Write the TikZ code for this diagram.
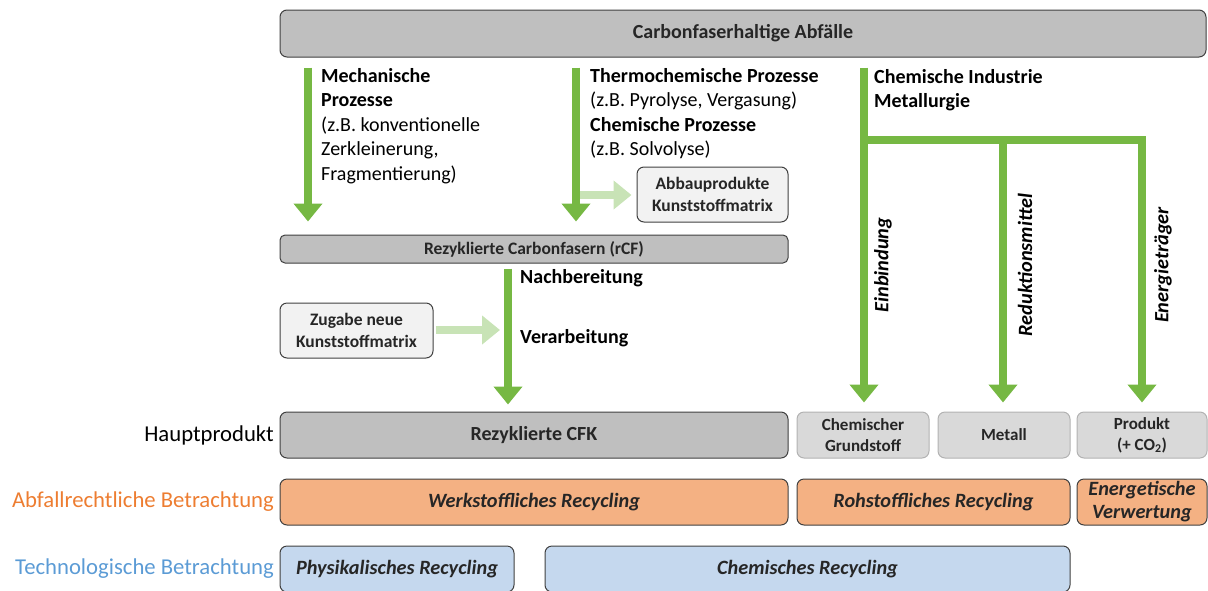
\documentclass[tikz,border=0pt]{standalone}
\usepackage{fontspec}
\setmainfont{Carlito}
\usetikzlibrary{arrows.meta}
\definecolor{gr}{HTML}{76B843}
\definecolor{lgr}{HTML}{C8E3B6}
\definecolor{gbox}{HTML}{BFBFBF}
\definecolor{pbox}{HTML}{D9D9D9}
\definecolor{wbox}{HTML}{F2F2F2}
\definecolor{obox}{HTML}{F4B183}
\definecolor{bbox}{HTML}{C5D8EE}
\definecolor{olab}{HTML}{ED7D31}
\definecolor{blab}{HTML}{5B9BD5}
\definecolor{txt}{HTML}{262626}
\tikzset{
  box/.style={rounded corners=7pt, draw=black!75, line width=1pt, inner sep=0pt, align=center, text=txt},
  pbx/.style={box, fill=pbox, draw=black!30, font=\fontsize{17}{21}\selectfont\bfseries},
  sbx/.style={box, fill=wbox, minimum height=55pt, font=\fontsize{17.5}{22}\selectfont\bfseries},
  obx/.style={box, fill=obox, minimum height=46pt, font=\fontsize{20.3}{23}\selectfont\bfseries\itshape},
  bbx/.style={box, fill=bbox, minimum height=46pt, font=\fontsize{20.3}{23}\selectfont\bfseries\itshape},
  gline/.style={draw=gr, line width=8pt},
  garr/.style={gline, -{Triangle[width=28pt,length=18pt]}},
  larr/.style={draw=lgr, line width=8pt, -{Triangle[width=28pt,length=18pt]}},
  ptxt/.style={anchor=north west, inner sep=0pt, align=left, text=black, font=\fontsize{20}{24.5}\selectfont},
  rlab/.style={rotate=90, inner sep=0pt, text=black, font=\fontsize{20.3}{22}\selectfont\bfseries\itshape},
  llab/.style={anchor=east, inner sep=0pt, font=\fontsize{22.7}{26}\selectfont},
}
\begin{document}
\begin{tikzpicture}[x=1pt,y=-1pt]
\useasboundingbox (0,0) rectangle (1208,590);
% boxes
\node[box, fill=gbox, minimum width=926pt, minimum height=47pt, font=\fontsize{20}{24}\selectfont\bfseries] (top) at (743,33.5) {Carbonfaserhaltige Abfälle};
\node[sbx, minimum width=151pt] (abbau) at (712.5,194.5) {Abbauprodukte\\Kunststoffmatrix};
\node[box, fill=gbox, rounded corners=5pt, minimum width=508pt, minimum height=28pt, font=\fontsize{17.5}{20}\selectfont\bfseries] (rcf) at (534,249) {Rezyklierte Carbonfasern (rCF)};
\node[sbx, minimum width=153pt] (zug) at (356.5,330.5) {Zugabe neue\\Kunststoffmatrix};
\node[box, fill=gbox, minimum width=508pt, minimum height=46pt, font=\fontsize{20}{24}\selectfont\bfseries] (cfk) at (534,435) {Rezyklierte CFK};
\node[pbx, minimum width=132pt, minimum height=46pt] (chg) at (863,435) {Chemischer\\Grundstoff};
\node[pbx, minimum width=132pt, minimum height=46pt] (met) at (1004,435) {Metall};
\node[pbx, minimum width=130pt, minimum height=46pt] (prod) at (1142,435) {Produkt\\(+ CO\textsubscript{2})};
\node[obx, minimum width=508pt] (werk) at (534,502) {Werkstoffliches Recycling};
\node[obx, minimum width=273pt] (roh) at (933.5,502) {Rohstoffliches Recycling};
\node[obx, minimum width=130pt] (ener) at (1142,502) {Energetische\\Verwertung};
\node[bbx, minimum width=234pt] (phys) at (397,569) {Physikalisches Recycling};
\node[bbx, minimum width=525pt] (chem) at (807.5,569) {Chemisches Recycling};
% left labels
\node[llab, text=black] (lh) at (274,435) {Hauptprodukt};
\node[llab, text=olab] (la) at (274,502) {Abfallrechtliche Betrachtung};
\node[llab, text=blab] (lt) at (274,569) {Technologische Betrachtung};
% process texts
\node[ptxt] (tmech) at (321,68) {\textbf{Mechanische}\\\textbf{Prozesse}\\(z.B. konventionelle\\Zerkleinerung,\\Fragmentierung)};
\node[ptxt] (tthermo) at (590,68) {\textbf{Thermochemische Prozesse}\\(z.B. Pyrolyse, Vergasung)\\\textbf{Chemische Prozesse}\\(z.B. Solvolyse)};
\node[ptxt] (tind) at (874,69) {\textbf{Chemische Industrie}\\\textbf{Metallurgie}};
\node[ptxt, font=\fontsize{20}{24.5}\selectfont\bfseries] (tnach) at (520,269) {Nachbereitung};
\node[ptxt, font=\fontsize{20}{24.5}\selectfont\bfseries] (tver) at (520,329) {Verarbeitung};
% coordinates
\coordinate (m1) at (308,0);
\coordinate (m2) at (576,0);
\coordinate (m3) at (508,0);
\coordinate (c3) at (864,140);
\coordinate (c4) at (1003,140);
\coordinate (c5) at (1142,140);
\coordinate (ab) at (580,195);
\coordinate (zg) at (500,330);
% arrows
\draw[garr, shorten <=10pt, shorten >=13pt] (top.south -| m1) -- (rcf.north -| m1);
\draw[garr, shorten <=10pt, shorten >=13pt] (top.south -| m2) -- (rcf.north -| m2);
\draw[larr, shorten >=5pt] (ab) -- (abbau.west |- ab);
\draw[garr, shorten <=5pt, shorten >=7pt] (rcf.south -| m3) -- (cfk.north -| m3);
\draw[larr, shorten <=2pt] (zug.east |- zg) -- (zg);
\draw[gline, shorten <=10pt] (top.south -| c3) -- (c3);
\draw[gline, line cap=rect] (c3) -- (c5);
\draw[garr, shorten <=-4pt, shorten >=9pt] (c3) -- (chg.north -| c3);
\draw[garr, shorten >=9pt] (c4) -- (met.north -| c4);
\draw[garr, shorten >=9pt] (c5) -- (prod.north -| c5);
% rotated labels
\node[rlab] (le) at (883,265) {Einbindung};
\node[rlab] (lr) at (1025,265) {Reduktionsmittel};
\node[rlab] (len) at (1163,265) {Energieträger};
\end{tikzpicture}
\end{document}
